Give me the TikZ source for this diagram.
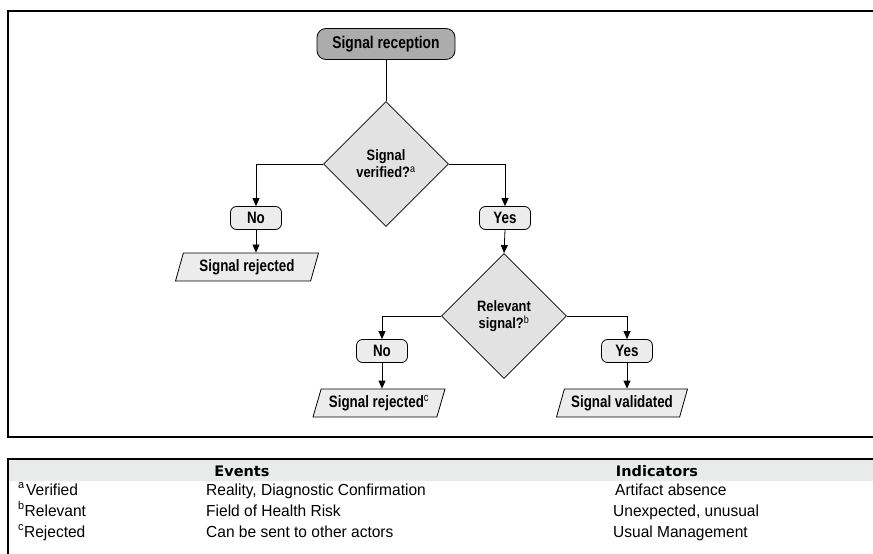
\documentclass[tikz,border=0pt]{standalone}
\usepackage{fontspec}
\setmainfont{Liberation Sans}[FakeStretch=0.97]
\newfontfamily\flowfont{Liberation Sans}[FakeStretch=0.81]
\newfontfamily\diafont{Liberation Sans}[FakeStretch=0.86]
\newfontfamily\headfont{DejaVu Sans}
\usetikzlibrary{shapes.geometric,arrows.meta}

\definecolor{startgray}{RGB}{172,172,172}
\definecolor{diagray}{RGB}{226,226,226}
\definecolor{boxgray}{RGB}{236,236,236}
\definecolor{bandgray}{RGB}{233,235,235}

\tikzset{
  x=1pt, y=-1pt,
  frameline/.style={line width=1.1pt, black},
  startbox/.style={draw, line width=0.8pt, fill=startgray, rounded corners=9pt,
    minimum width=138pt, minimum height=31pt, inner sep=0pt,
    font=\flowfont\fontsize{17}{19}\selectfont\bfseries},
  decision/.style={draw, line width=0.8pt, fill=diagray, diamond, aspect=1,
    minimum width=125pt, minimum height=125pt, inner sep=0pt, align=center,
    font=\diafont\fontsize{15}{17}\selectfont\bfseries},
  answer/.style={draw, line width=0.8pt, fill=boxgray, rounded corners=6pt,
    minimum width=51pt, minimum height=23pt, inner sep=0pt,
    font=\flowfont\fontsize{16.5}{18}\selectfont\bfseries},
  outbox/.style={draw, line width=0.8pt, fill=boxgray, trapezium,
    trapezium left angle=63, trapezium right angle=117,
    trapezium stretches body=true,
    minimum height=28pt, inner sep=0pt,
    font=\flowfont\fontsize{16.5}{18}\selectfont\bfseries},
  link/.style={line width=0.8pt, black},
  arrowlink/.style={link, -{Triangle[length=8pt,width=7pt]}},
  cell/.style={anchor=base west, inner sep=0pt, font=\fontsize{16}{18}\selectfont},
  headcell/.style={anchor=base, inner sep=0pt, font=\headfont\fontsize{14.5}{16}\selectfont\bfseries},
}

\newcommand{\supmark}[1]{\textsuperscript{\mdseries #1}}

\begin{document}
\begin{tikzpicture}
  \useasboundingbox (0,0) rectangle (873,554);

  % frame around the flowchart
  \draw[frameline] (873,11) -- (8,11) -- (8,437) -- (873,437);

  % flowchart nodes
  \node[startbox] (rec) at (386,44) {Signal reception};
  \node[decision] (d1) at (386,164) {Signal\\verified?\supmark{a}};
  \node[answer] (no1) at (256,218) {No};
  \node[outbox, minimum width=143pt] (rej1) at (247,267) {Signal rejected};
  \node[answer] (yes1) at (505,218) {Yes};
  \node[decision] (d2) at (504,316) {Relevant\\signal?\supmark{b}};
  \node[answer] (no2) at (382,351) {No};
  \node[outbox, minimum width=132pt] (rej2) at (379,403) {Signal rejected\supmark{c}};
  \node[answer] (yes2) at (627,351) {Yes};
  \node[outbox, minimum width=131pt] (val) at (622,403) {Signal validated};

  % connectors
  \draw[link] (rec.south) -- (d1.north);
  \draw[arrowlink] (d1.west) -| (no1.north);
  \draw[arrowlink] (no1.south) -- (no1.south |- rej1.north);
  \draw[arrowlink] (d1.east) -| (yes1.north);
  \draw[arrowlink] (yes1.south) -- (d2.north);
  \draw[arrowlink] (d2.west) -| (no2.north);
  \draw[arrowlink] (no2.south) -- (no2.south |- rej2.north);
  \draw[arrowlink] (d2.east) -| (yes2.north);
  \draw[arrowlink] (yes2.south) -- (yes2.south |- val.north);

  % legend table
  \fill[bandgray] (8,460) rectangle (873,481);
  \draw[frameline] (873,459) -- (8,459) -- (8,554);
  \node[headcell] (hev) at (242,476) {Events};
  \node[headcell] (hind) at (657,476) {Indicators};

  \node[cell] (r1a) at (18,495) {\supmark{a}\kern1.5pt Verified};
  \node[cell] (r1b) at (206,495) {Reality, Diagnostic Confirmation};
  \node[cell] (r1c) at (615,495) {Artifact absence};

  \node[cell] (r2a) at (18,516) {\supmark{b}Relevant};
  \node[cell] (r2b) at (206,516) {Field of Health Risk};
  \node[cell] (r2c) at (613,516) {Unexpected, unusual};

  \node[cell] (r3a) at (18,537) {\supmark{c}Rejected};
  \node[cell] (r3b) at (206,537) {Can be sent to other actors};
  \node[cell] (r3c) at (613,537) {Usual Management};
\end{tikzpicture}
\end{document}
